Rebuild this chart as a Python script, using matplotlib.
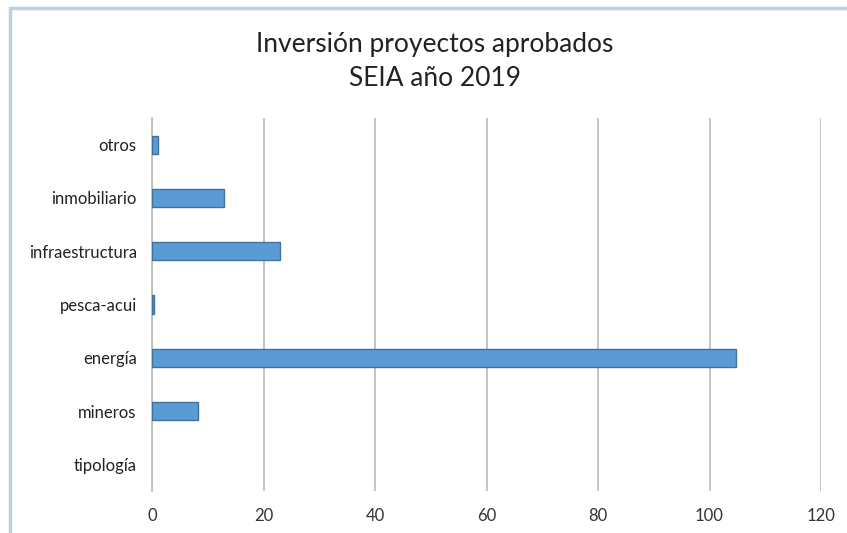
import matplotlib
matplotlib.use("Agg")
import matplotlib.pyplot as plt
from matplotlib.patches import Rectangle

categories = ["tipología", "mineros", "energía", "pesca-acui", "infraestructura", "inmobiliario", "otros"]
values = [0, 8.3, 104.8, 0.3, 22.9, 12.9, 1.1]
xticks = [0, 20, 40, 60, 80, 100, 120]

plt.rcParams['font.family'] = ['Lato', 'DejaVu Sans']

fig = plt.figure(figsize=(8.47, 5.33), dpi=100)
ax = fig.add_axes([152/847, 1-491/533, (821-152)/847, (491-118)/533])

ax.barh(range(len(categories)), values, height=0.34, color="#5B9BD5",
        edgecolor="#41719C", linewidth=[0 if v == 0 else 1.0 for v in values], zorder=3)
ax.set_xlim(0, 120)
ax.set_ylim(-0.5, len(categories)-0.5)
ax.set_xticks(xticks)
ax.set_xticklabels([str(t) for t in xticks], fontsize=12, color="#333333")
ax.set_yticks(range(len(categories)))
ax.set_yticklabels(categories, fontsize=12, color="#222222")
ax.tick_params(axis='both', length=0)
ax.tick_params(axis='x', pad=12)
ax.tick_params(axis='y', pad=11)
ax.grid(axis='x', color="#BFBFBF", linewidth=1.3, zorder=0)
for s in ["top", "right", "bottom"]:
    ax.spines[s].set_visible(False)
ax.spines["left"].set_color("#BFBFBF")
ax.spines["left"].set_linewidth(1.3)

fig.text(435/847, 1-45/533, "Inversión proyectos aprobados", ha="center", va="center",
         fontsize=19, color="#222222")
fig.text(435/847, 1-78/533, "SEIA año 2019", ha="center", va="center",
         fontsize=19, color="#222222")

fig.patches.append(Rectangle((10/847, -0.1), 1.2, 1-8/533+0.1, transform=fig.transFigure,
                             fill=False, edgecolor="#C0D0E4", linewidth=2.5))

fig.savefig("out.png", dpi=100)
